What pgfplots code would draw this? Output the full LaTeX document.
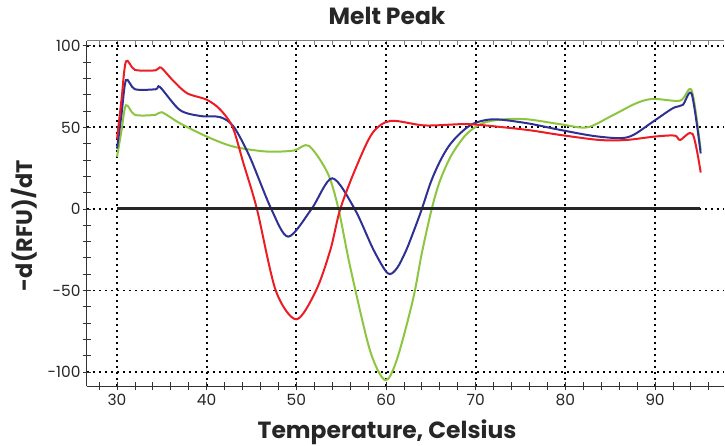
\documentclass[border=0pt]{standalone}
\usepackage{fontspec}
\setmainfont{Poppins}
\usepackage{pgfplots}
\pgfplotsset{compat=1.18}
\definecolor{cred}{HTML}{ED1C24}
\definecolor{cblue}{HTML}{2E3192}
\definecolor{cgreen}{HTML}{8CC63F}
\definecolor{axgray}{HTML}{333333}
\begin{document}
\begin{tikzpicture}
\path[use as bounding box] (-87bp,-60bp) rectangle (638bp,386bp);
% top frame line with its small ticks
\begin{axis}[
 scale only axis,width=637bp,height=345bp,
 xmin=26.65,xmax=97.7,ymin=-108.6,ymax=103,
 axis x line*=top,axis y line=none,
 xtick={28,30,...,96},xticklabels={},
 tick align=inside,major tick length=4bp,
 x axis line style={color=gray,line width=1bp},
 every tick/.style={gray,line width=0.8bp},
]
\addplot[draw=none] coordinates {(30,0)};
\end{axis}
\begin{axis}[
 scale only axis,width=637bp,height=345bp,
 xmin=26.65,xmax=97.7,ymin=-108.6,ymax=103,
 axis x line*=bottom,axis y line*=left,
 axis line style={color=axgray,line width=1bp,-},
 xtick={30,40,...,90},minor xtick={28,32,34,36,38,42,44,46,48,52,54,56,58,62,64,66,68,72,74,76,78,82,84,86,88,92,94,96},
 ytick={-100,-50,0,50,100},minor ytick={-100,-90,...,100},
 x tick style={axgray,line width=0.8bp},y tick style={axgray,line width=0.8bp},
 tick align=center,
 major tick length=8bp,minor tick length=8bp,
 grid=major,
 major grid style={black,line width=1.9bp,dash pattern=on 1.9bp off 4.1bp},
 /pgf/number format/assume math mode=true,
 tick label style={font=\fontsize{15.5}{17}\selectfont,text=black!85},
 xticklabel style={yshift=-1bp},
 yticklabel style={xshift=1bp},
 title={\textbf{Melt Peak}},
 title style={font=\fontsize{23.5}{26}\selectfont,text=black!85,at={(axis description cs:0.471,1.0319)},anchor=base},
 xlabel={\textbf{Temperature, Celsius}},
 xlabel style={font=\fontsize{23.5}{26}\selectfont,text=black!85,at={(axis description cs:0.471,-0.152)},anchor=base},
 ylabel={\textbf{-d(RFU)/dT}},
 ylabel style={font=\fontsize{22.5}{25}\selectfont,text=black!85,at={(axis description cs:-0.0863,0.465)},anchor=base},
 every axis plot/.append style={line width=2bp,smooth,tension=0.5,mark=none},
]
\addplot[cgreen] coordinates {
(30,32) (30.5,48) (31,63.6) (32,57.7) (34.3,57.7) (35,59.3) (37,52.6) (40,44.4) (43,38.2)
(46.7,35.2) (49.7,35.8) (51.4,38.7) (53.5,21.9) (54.7,0) (56,-35.4) (58.2,-86.5)
(59.9,-105) (61.2,-92.6) (63,-55.8) (64,-27) (65.1,0) (66,17) (67.3,33) (69,46)
(70.8,52.6) (72.8,54.8) (75.7,55) (79.4,52) (82.4,50) (85,56.6) (87.9,64.8) (89.8,67.5) (92.8,66.4)
(94.1,72.6) (95.1,36)
};
\addplot[cblue] coordinates {
(30,37) (30.5,58) (31,79) (32,73.4) (34.3,73.4) (34.8,74.7) (37,60.7) (39.3,57) (41.5,56.3)
(43,50.5) (44.8,32) (47.2,0) (49.1,-17) (51.7,0) (54,18.8) (56.5,0) (58.6,-25)
(60.2,-39.5) (61.2,-36.5) (62.2,-26) (63.1,-13.5) (64,0) (65,16.5) (66,29) (67,38.5) (68.2,46) (69.7,52.2)
(72,55) (75.7,52.6) (79.4,48.5) (83.1,44.8) (86.1,43.4) (87.6,45.4) (89.8,53.6) (92,61.8) (93.1,63.8)
(94.1,70.4) (95.1,34)
};
\addplot[cred] coordinates {
(30,43) (30.5,67) (31,90.5) (32,85.3) (34.3,85) (34.9,86.7) (36.2,79) (37.8,71) (40,67)
(41.5,61) (42.9,50) (44.1,28) (45.6,0) (47.7,-50) (50,-67.7) (52.2,-50) (53.8,-25)
(54.9,0) (56.7,26) (58.5,46.6) (60.5,54) (64.3,51.2) (68.4,52) (70.5,51.5)
(75.7,48.5) (79.4,45.4) (83.8,42.3) (86.8,42.3) (90,44.4) (92.2,45) (92.8,42.3)
(94.2,46) (95.1,22.3)
};
\addplot[black!85,line width=3bp,sharp plot] coordinates {(30,0) (95,0)};
\end{axis}
\end{tikzpicture}
\end{document}
